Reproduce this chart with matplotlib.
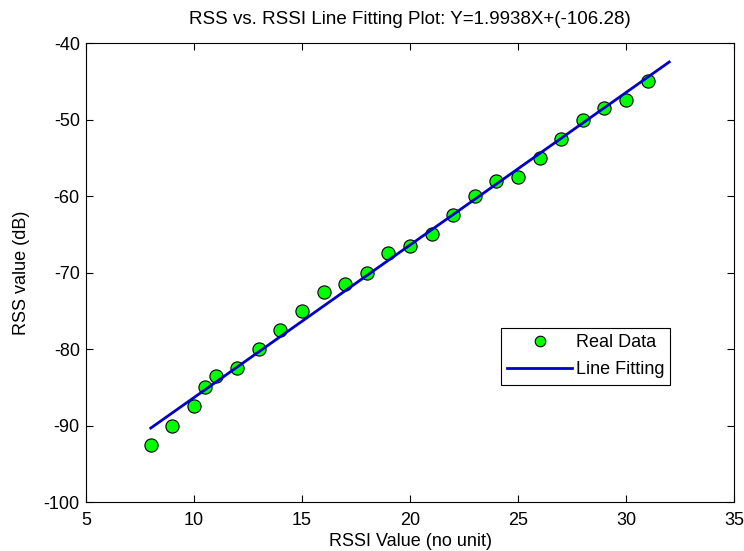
import matplotlib
matplotlib.use("Agg")
import matplotlib.pyplot as plt
import numpy as np

plt.rcParams['font.family'] = ['Liberation Sans', 'DejaVu Sans']
plt.rcParams['axes.unicode_minus'] = False

# Measured RSSI readings and the corresponding received signal strength
rssi = [8, 9, 10, 10.5, 11, 12, 13, 14, 15, 16, 17, 18, 19, 20, 21, 22,
        23, 24, 25, 26, 27, 28, 29, 30, 31]
rss = [-92.5, -90, -87.5, -85, -83.5, -82.5, -80, -77.5, -75, -72.5, -71.5,
       -70, -67.5, -66.5, -65, -62.5, -60, -58, -57.5, -55, -52.5, -50,
       -48.5, -47.5, -45]

# Least-squares fit coefficients
slope = 1.9938
intercept = -106.28
fit_x = [8, 32]

xticks = [5, 10, 15, 20, 25, 30, 35]
yticks = [-100, -90, -80, -70, -60, -50, -40]

FS = 13

fig = plt.figure(figsize=(7.44, 5.51), dpi=100)
ax = fig.add_axes([0.1156, 0.0889, 0.871, 0.833])

fx = np.array(fit_x, dtype=float)
ax.plot(rssi, rss, 'o', color='#00ff00', markeredgecolor='black',
        markeredgewidth=0.8, markersize=9.5, label='Real Data', zorder=2)
ax.plot(fx, slope * fx + intercept, '-', color='#0000cc', linewidth=2,
        label='Line Fitting', zorder=3)

ax.set_xlim(5, 35)
ax.set_ylim(-100, -40)
ax.set_xticks(xticks)
ax.set_yticks(yticks)
ax.tick_params(direction='in', top=True, right=True, length=5,
               labelsize=FS, width=0.8)
ax.tick_params(axis='x', pad=7)
ax.tick_params(axis='y', pad=4.5)
for s in ax.spines.values():
    s.set_linewidth(0.8)

ax.set_xlabel('RSSI Value (no unit)', fontsize=FS, labelpad=3)
ax.set_ylabel('RSS value (dB)', fontsize=FS, labelpad=10)
ax.set_title('RSS vs. RSSI Line Fitting Plot: Y=%.4fX+(%.2f)' % (slope, intercept),
             fontsize=13.5, pad=14)

leg = ax.legend(loc='upper left', bbox_to_anchor=(0.640, 0.379),
                fontsize=FS, fancybox=False, framealpha=1,
                edgecolor='black', borderpad=0.35, handlelength=3.6,
                handletextpad=0.2, labelspacing=0.55, borderaxespad=0,
                markerscale=0.8)
leg.get_frame().set_linewidth(0.8)

fig.savefig('out.png', dpi=100)
